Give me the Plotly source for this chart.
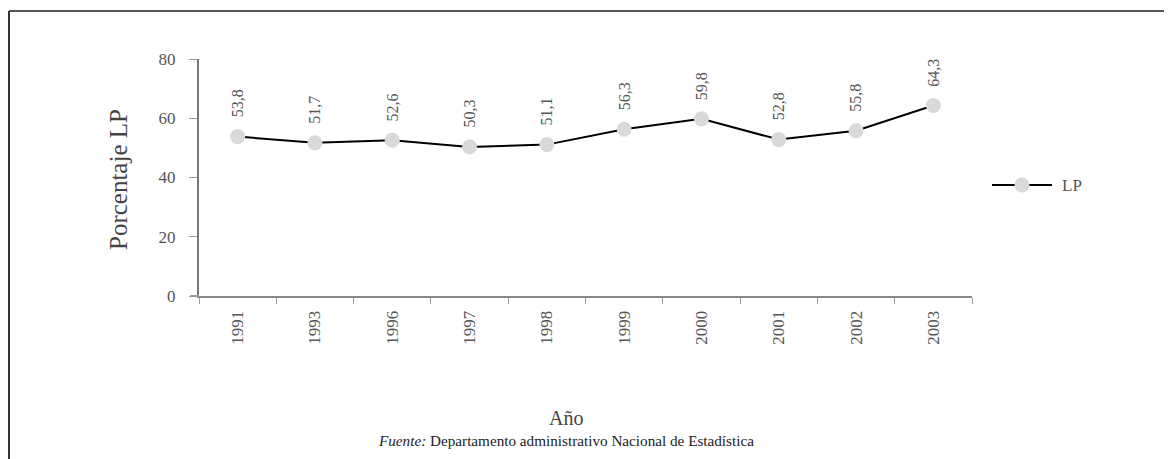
import plotly.graph_objects as go

years = ["1991", "1993", "1996", "1997", "1998", "1999", "2000", "2001", "2002", "2003"]
lp_values = [53.8, 51.7, 52.6, 50.3, 51.1, 56.3, 59.8, 52.8, 55.8, 64.3]
lp_labels = ["53,8", "51,7", "52,6", "50,3", "51,1", "56,3", "59,8", "52,8", "55,8", "64,3"]
y_ticks = [0, 20, 40, 60, 80]
series_name = "LP"

FONT = "Liberation Serif, Times New Roman, serif"
OFF = 8  # page body margin offset
W, H = 1172, 459
# target plot area in screenshot pixels
X0, X1, Y0, Y1 = 199, 972, 59, 296
L = X0 - OFF
T = Y0 - OFF
R = W - (X1 - OFF)
B = H - (Y1 - OFF)

MARKER_COLOR = "#d9d9d9"

fig = go.Figure()
fig.add_trace(go.Scatter(
    x=years, y=lp_values, mode="lines+markers", name=series_name,
    line=dict(color="black", width=2),
    marker=dict(color=MARKER_COLOR, size=15, line=dict(width=0)),
    cliponaxis=False, showlegend=False,
))

for i, (v, lab) in enumerate(zip(lp_values, lp_labels)):
    fig.add_annotation(x=i, y=v, text=lab, textangle=-90, showarrow=False,
                       yanchor="bottom", yshift=17,
                       font=dict(family=FONT, size=16, color="#555"))

fig.update_xaxes(type="category", showline=True, linecolor="#888", linewidth=2,
                 ticks="outside", tickson="boundaries", ticklen=6, tickcolor="#999",
                 ticklabelstandoff=6,
                 tickangle=-90, tickfont=dict(family=FONT, size=17, color="#555"),
                 showgrid=False, zeroline=False, range=[-0.5, 9.5])
fig.update_yaxes(range=[0, 80], tickvals=y_ticks, showline=True, linecolor="#777",
                 linewidth=2, ticks="outside", ticklen=8, tickcolor="#999",
                 ticklabelstandoff=10,
                 tickfont=dict(family=FONT, size=17, color="#555"),
                 showgrid=False, zeroline=False)

pw, ph = X1 - X0, Y1 - Y0
def px(x):
    return (x - X0) / pw
def py(y):
    return (Y1 - y) / ph

fig.add_annotation(xref="paper", yref="paper", x=px(118), y=py(180), text="Porcentaje LP",
                   xanchor="center", yanchor="middle",
                   textangle=-90, showarrow=False, font=dict(family=FONT, size=25, color="#444"))
fig.add_annotation(xref="paper", yref="paper", x=px(566), y=py(418), text="Año",
                   xanchor="center", yanchor="middle",
                   showarrow=False, font=dict(family=FONT, size=20, color="#444"))
fig.add_annotation(xref="paper", yref="paper", x=px(566), y=py(440),
                   xanchor="center", yanchor="middle",
                   text="<i>Fuente:</i> Departamento administrativo Nacional de Estadística",
                   showarrow=False, font=dict(family=FONT, size=15.2, color="#222"))

# frame lines
fig.add_shape(type="line", xref="paper", yref="paper", x0=px(9), x1=px(1180), y0=py(11), y1=py(11),
              line=dict(color="#555", width=2))
fig.add_shape(type="line", xref="paper", yref="paper", x0=px(9), x1=px(9), y0=py(11), y1=py(470),
              line=dict(color="#333", width=2))
# x-axis line stub extending left of y axis
fig.add_shape(type="line", xref="paper", yref="paper", x0=px(190), x1=px(199), y0=0, y1=0,
              line=dict(color="#999", width=2))

# legend (drawn)
fig.add_shape(type="line", xref="paper", yref="paper", x0=px(992), x1=px(1052), y0=py(185), y1=py(185),
              line=dict(color="black", width=2))
fig.add_shape(type="circle", xref="paper", yref="paper", x0=px(1014.5), x1=px(1029.5),
              y0=py(192.5), y1=py(177.5), fillcolor=MARKER_COLOR, line=dict(width=0))
fig.add_annotation(xref="paper", yref="paper", x=px(1060), y=py(185), text=series_name,
                   xanchor="left", yanchor="middle", showarrow=False,
                   font=dict(family=FONT, size=17, color="#555"))

fig.update_layout(
    width=W, height=H, margin=dict(l=L, r=R, t=T, b=B),
    paper_bgcolor="white", plot_bgcolor="white",
    showlegend=False,
    font=dict(family=FONT),
)

fig.write_html("out.html")
